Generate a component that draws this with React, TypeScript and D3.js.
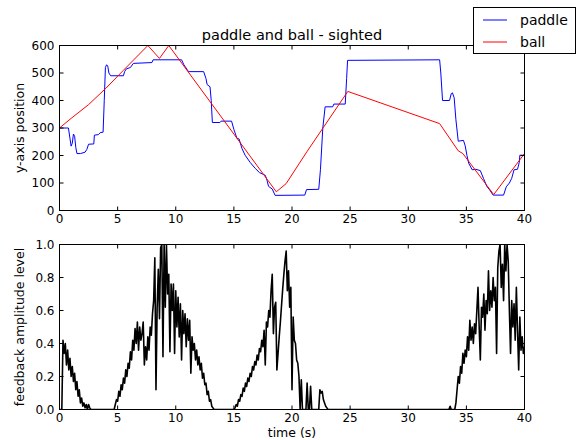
import React from 'react';
import * as d3 from 'd3';

// Paddle trace (time in s, y-axis position)
const paddleTime = [0, 0.77, 0.9, 1.0, 1.1, 1.2, 1.3, 1.4, 1.5, 1.8, 2.2, 2.35, 2.5, 2.95, 3.0, 3.35, 3.5, 3.75, 3.85, 3.95, 4.05, 4.15, 4.25, 4.4, 5.5, 5.6, 5.75, 6.1, 6.35, 7.95, 8.05, 10.5, 10.7, 11.1, 12.4, 12.6, 12.7, 12.95, 13.05, 13.15, 13.8, 13.9, 14.8, 15.0, 15.26, 15.45, 15.7, 15.97, 16.4, 16.84, 17.2, 17.7, 17.85, 17.98, 18.3, 18.55, 21.1, 21.25, 22.3, 22.45, 22.65, 22.85, 23.5, 23.6, 24.58, 24.7, 24.78, 32.7, 32.8, 32.95, 33.55, 33.7, 33.8, 33.95, 34.1, 34.3, 34.75, 34.9, 35.05, 35.2, 35.5, 35.8, 36.2, 36.47, 36.76, 37.0, 37.3, 38.2, 38.43, 38.7, 38.9, 39.1, 39.4, 39.55, 39.6, 39.9, 40];
const paddlePos = [300, 300, 262, 234, 245, 278, 270, 230, 207, 207, 212, 222, 241, 242, 274, 276, 283, 285, 400, 520, 530, 525, 500, 490, 490, 505, 515, 520, 535, 538, 548, 548, 530, 505, 505, 480, 458, 450, 400, 320, 320, 325, 325, 295, 263, 260, 225, 201, 175, 153, 138, 128, 110, 88, 78, 55, 56, 76, 77, 150, 300, 377, 377, 387, 387, 480, 546, 548, 500, 400, 400, 425, 428, 410, 330, 252, 255, 235, 200, 172, 148, 150, 145, 117, 88, 75, 56, 56, 86, 100, 117, 148, 150, 175, 201, 201, 205];

// Ball trace
const ballTime = [0, 1, 2.5, 4, 5.5, 7.6, 8.6, 9.4, 18.65, 19.5, 21.3, 24.8, 32.7, 34.3, 34.7, 37.35, 40];
const ballPos = [300, 335, 385, 445, 510, 600, 553, 600, 68, 98, 215, 433, 316, 217, 207, 58, 207];

// Feedback amplitude, sampled every 0.1 s from t = 0
const feedbackStep = 0.1;
const feedbackLevel = [
  0, 0, 0, 0.42, 0.34, 0.40, 0.27, 0.36, 0.24, 0.31,
  0.20, 0.26, 0.17, 0.22, 0.12, 0.17, 0.08, 0.12, 0.04, 0.07,
  0.02, 0.04, 0.01, 0.03, 0, 0.03, 0.01, 0, 0, 0,
  0, 0, 0, 0, 0, 0, 0, 0, 0, 0,
  0, 0, 0, 0, 0, 0, 0, 0, 0.03, 0.06,
  0.05, 0.11, 0.08, 0.15, 0.12, 0.19, 0.16, 0.24, 0.20, 0.28,
  0.25, 0.35, 0.30, 0.42, 0.36, 0.49, 0.40, 0.53, 0.36, 0.50,
  0.42, 0.46, 0.53, 0.27, 0.38, 0.30, 0.44, 0.36, 0.50, 0.45,
  0.58, 0.66, 0.92, 0.12, 0.62, 0.85, 0.55, 0.98, 1.0, 0.32,
  1.0, 0.62, 1.0, 0.70, 0.82, 0.35, 0.76, 0.60, 0.76, 0.34,
  0.72, 0.50, 0.68, 0.44, 0.64, 0.30, 0.60, 0.46, 0.58, 0.38,
  0.55, 0.42, 0.54, 0.22, 0.44, 0.36, 0.40, 0.30, 0.36, 0.27,
  0.32, 0.24, 0.28, 0.19, 0.22, 0.15, 0.16, 0.09, 0.11, 0.05,
  0.06, 0.02, 0.01, 0, 0, 0, 0, 0, 0, 0,
  0, 0, 0, 0, 0, 0, 0, 0, 0, 0,
  0, 0.01, 0.03, 0.02, 0.06, 0.05, 0.09, 0.08, 0.13, 0.11,
  0.16, 0.14, 0.19, 0.17, 0.22, 0.20, 0.26, 0.24, 0.29, 0.27,
  0.33, 0.30, 0.37, 0.35, 0.42, 0.38, 0.48, 0.27, 0.53, 0.50,
  0.60, 0.56, 0.72, 0.82, 0.46, 0.62, 0.65, 0.24, 0.34, 0.44,
  0.53, 0.63, 0.73, 0.82, 0.90, 0.96, 0.72, 0.84, 0.62, 0.74,
  0.12, 0.56, 0.42, 0.40, 0.30, 0.28, 0.20, 0, 0.18, 0,
  0, 0, 0, 0.16, 0, 0, 0.14, 0, 0, 0,
  0, 0, 0, 0, 0.12, 0.10, 0.11, 0.06, 0.04, 0.02,
  0.01, 0, 0, 0, 0, 0, 0, 0, 0, 0,
  0, 0, 0, 0, 0, 0, 0, 0, 0, 0,
  0, 0, 0, 0, 0, 0, 0, 0, 0, 0,
  0, 0, 0, 0, 0, 0, 0, 0, 0, 0,
  0, 0, 0, 0, 0, 0, 0, 0, 0, 0,
  0, 0, 0, 0, 0, 0, 0, 0, 0, 0,
  0, 0, 0, 0, 0, 0, 0, 0, 0, 0,
  0, 0, 0, 0, 0, 0, 0, 0, 0, 0,
  0, 0, 0, 0, 0, 0, 0, 0, 0, 0,
  0, 0, 0, 0, 0, 0, 0, 0, 0, 0,
  0, 0, 0, 0, 0, 0, 0.02, 0, 0, 0,
  0, 0.04, 0.12, 0.20, 0.16, 0.26, 0.22, 0.34, 0.28, 0.36,
  0.32, 0.44, 0.36, 0.54, 0.42, 0.50, 0.40, 0.52, 0.46, 0.60,
  0.74, 0.50, 0.30, 0.62, 0.56, 0.70, 0.48, 0.66, 0.58, 0.84,
  0.60, 0.72, 0.62, 0.80, 0.66, 0.74, 0.34, 0.86, 0.96, 1.0,
  0.74, 0.88, 0.66, 1.0, 0.84, 1.0, 0.90, 0.60, 0.34, 0.66,
  0.50, 0.64, 0.42, 0.74, 0.48, 0.24, 0.56, 0.36, 0.44, 0.34,
  0.38,
];

const timeTicks = [0, 5, 10, 15, 20, 25, 30, 35, 40];
const posTicks = [0, 100, 200, 300, 400, 500, 600];
const levelTicks = [0, 0.2, 0.4, 0.6, 0.8, 1.0];

const W = 579;
const H = 440;
const FONT = "'DejaVu Sans', sans-serif";
const TICK = 4;
const TICK_FS = 12;
const LABEL_FS = 12.5;
const TITLE_FS = 14.5;
const LEGEND_FS = 14;

const x = d3.scaleLinear().domain([0, 40]).range([59.5, 524.5]);
const yPos = d3.scaleLinear().domain([0, 600]).range([210.5, 45.5]);
const yLevel = d3.scaleLinear().domain([0, 1]).range([409.5, 244.5]);

type PanelProps = {
  id: string;
  y: d3.ScaleLinear<number, number>;
  yTicks: number[];
  yFormat: (v: number) => string;
  children: React.ReactNode;
};

function Panel({ id, y, yTicks, yFormat, children }: PanelProps) {
  const [x0, x1] = x.range();
  const [yb, yt] = y.range();
  return (
    <g>
      <defs>
        <clipPath id={id}>
          <rect x={x0} y={yt} width={x1 - x0} height={yb - yt} />
        </clipPath>
      </defs>
      <g clipPath={`url(#${id})`}>{children}</g>
      <rect x={x0} y={yt} width={x1 - x0} height={yb - yt} fill="none" stroke="#000" strokeWidth={1} />
      {timeTicks.map((t) => (
        <g key={`xt${t}`}>
          <line x1={x(t)} x2={x(t)} y1={yb} y2={yb - TICK} stroke="#000" />
          <line x1={x(t)} x2={x(t)} y1={yt} y2={yt + TICK} stroke="#000" />
          <text x={x(t)} y={yb + 12} textAnchor="middle" fontSize={TICK_FS} fontFamily={FONT} fill="#000">
            {t}
          </text>
        </g>
      ))}
      {yTicks.map((v) => (
        <g key={`yt${v}`}>
          <line x1={x0} x2={x0 + TICK} y1={y(v)} y2={y(v)} stroke="#000" />
          <line x1={x1} x2={x1 - TICK} y1={y(v)} y2={y(v)} stroke="#000" />
          <text x={x0 - 5} y={y(v)} dy="0.36em" textAnchor="end" fontSize={TICK_FS} fontFamily={FONT} fill="#000">
            {yFormat(v)}
          </text>
        </g>
      ))}
    </g>
  );
}

export default function App() {
  const paddleLine = d3
    .line<number>()
    .x((_, i) => x(paddleTime[i]))
    .y((d) => yPos(d));
  const ballLine = d3
    .line<number>()
    .x((_, i) => x(ballTime[i]))
    .y((d) => yPos(d));
  const levelLine = d3
    .line<number>()
    .x((_, i) => x(i * feedbackStep))
    .y((d) => yLevel(d));

  const cx = (x.range()[0] + x.range()[1]) / 2;
  const legendX = 473.5;
  const legendY = 7.5;

  return (
    <svg
      width={W}
      height={H}
      style={{ position: 'absolute', left: 0, top: 0, background: '#fff' }}
    >
      <rect x={0} y={0} width={W} height={H} fill="#fff" />

      <Panel id="clip-pos" y={yPos} yTicks={posTicks} yFormat={(v) => String(v)}>
        <path d={paddleLine(paddlePos) ?? ''} fill="none" stroke="#0000ff" strokeWidth={1} />
        <path d={ballLine(ballPos) ?? ''} fill="none" stroke="#ff0000" strokeWidth={1} />
      </Panel>
      <text x={cx} y={40} textAnchor="middle" fontSize={TITLE_FS} fontFamily={FONT} fill="#000">
        paddle and ball - sighted
      </text>
      <text
        transform={`translate(24,${(yPos.range()[0] + yPos.range()[1]) / 2}) rotate(-90)`}
        textAnchor="middle"
        fontSize={LABEL_FS}
        fontFamily={FONT}
        fill="#000"
      >
        y-axis position
      </text>

      <Panel id="clip-level" y={yLevel} yTicks={levelTicks} yFormat={(v) => v.toFixed(1)}>
        <path d={levelLine(feedbackLevel) ?? ''} fill="none" stroke="#000" strokeWidth={1.6} strokeLinejoin="round" />
      </Panel>
      <text
        transform={`translate(24,${(yLevel.range()[0] + yLevel.range()[1]) / 2}) rotate(-90)`}
        textAnchor="middle"
        fontSize={LABEL_FS}
        fontFamily={FONT}
        fill="#000"
      >
        feedback amplitude level
      </text>
      <text x={cx} y={437} textAnchor="middle" fontSize={LABEL_FS} fontFamily={FONT} fill="#000">
        time (s)
      </text>

      <g>
        <rect x={legendX} y={legendY} width={102} height={46} fill="#fff" stroke="#000" strokeWidth={1} />
        {[
          { label: 'paddle', color: '#0000ff', y: 20 },
          { label: 'ball', color: '#ff0000', y: 42 },
        ].map((e) => (
          <g key={e.label}>
            <line x1={483} x2={507} y1={e.y} y2={e.y} stroke={e.color} strokeWidth={1} />
            <text x={520} y={e.y} dy="0.36em" fontSize={LEGEND_FS} fontFamily={FONT} fill="#000">
              {e.label}
            </text>
          </g>
        ))}
      </g>
    </svg>
  );
}
